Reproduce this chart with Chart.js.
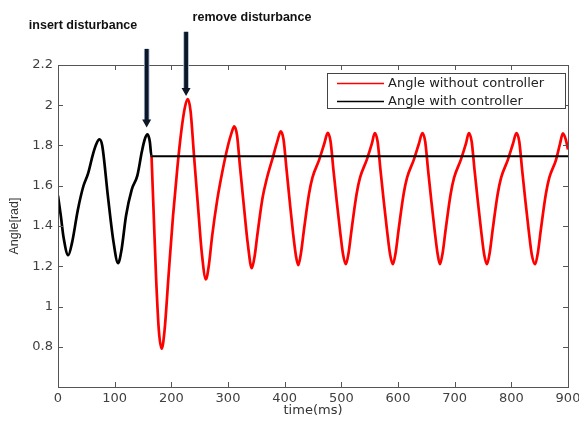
<!DOCTYPE html>
<html>
<head>
<meta charset="utf-8">
<script src="https://cdn.jsdelivr.net/npm/chart.js@4"></script>
<style>
  body { margin: 0; background: #fff; }
  canvas { display: block; }
</style>
</head>
<body>
<canvas id="angleChart" width="579" height="422"></canvas>
<script>
// Angle vs time

const xTicks = [0, 100, 200, 300, 400, 500, 600, 700, 800, 900];
const yTicks = [0.6, 0.8, 1, 1.2, 1.4, 1.6, 1.8, 2, 2.2];

// with controller: oscillation until the disturbance, then flat
const blackTime = [0, 5, 10, 18, 25, 35, 45, 53, 62, 68, 73, 78, 88, 98, 106, 112, 120, 130, 140, 148, 153, 158, 162, 165, 900];
const blackAngle = [1.55, 1.45, 1.34, 1.255, 1.32, 1.48, 1.60, 1.66, 1.76, 1.81, 1.83, 1.80, 1.55, 1.32, 1.215, 1.28, 1.45, 1.58, 1.65, 1.77, 1.83, 1.855, 1.82, 1.746, 1.746];

// without controller
const redTime = [
  165, 169, 173, 178, 183, 188, 195, 203, 211, 218, 224, 229, 234, 240, 247, 254, 261,
  266, 272, 281, 290, 300, 306, 311, 316, 321, 328, 335, 342,
  347, 352, 361, 368, 379, 387, 393, 398, 403, 409, 415, 420, 424,
  429, 434, 443, 449, 461, 470, 476, 481, 486, 492, 498, 503, 508,
  513, 518, 527, 533, 545, 554, 559, 564, 569, 575, 581, 586, 591,
  596, 601, 610, 616, 628, 637, 643, 648, 653, 659, 665, 670, 674,
  679, 684, 693, 699, 711, 720, 725, 730, 735, 741, 747, 752, 757,
  762, 767, 776, 782, 794, 803, 809, 814, 819, 825, 831, 836, 842,
  847, 852, 861, 867, 879, 886, 891, 896, 900
];
const redAngle = [
  1.75, 1.45, 1.15, 0.88, 0.79, 0.88, 1.15, 1.45, 1.70, 1.88, 1.99, 2.03, 1.97, 1.75, 1.50, 1.26, 1.135,
  1.20, 1.35, 1.53, 1.67, 1.80, 1.86, 1.895, 1.85, 1.70, 1.50, 1.31, 1.19,
  1.25, 1.36, 1.54, 1.63, 1.74, 1.82, 1.87, 1.83, 1.69, 1.52, 1.36, 1.25, 1.205,
  1.27, 1.38, 1.56, 1.64, 1.73, 1.81, 1.863, 1.82, 1.68, 1.52, 1.37, 1.26, 1.21,
  1.27, 1.38, 1.56, 1.64, 1.73, 1.81, 1.862, 1.82, 1.68, 1.52, 1.37, 1.26, 1.21,
  1.27, 1.38, 1.56, 1.64, 1.73, 1.81, 1.862, 1.82, 1.68, 1.52, 1.37, 1.26, 1.21,
  1.27, 1.38, 1.56, 1.64, 1.73, 1.81, 1.862, 1.82, 1.68, 1.52, 1.37, 1.26, 1.21,
  1.27, 1.38, 1.56, 1.64, 1.73, 1.81, 1.862, 1.82, 1.68, 1.52, 1.37, 1.26, 1.21,
  1.27, 1.38, 1.56, 1.64, 1.73, 1.81, 1.86, 1.83, 1.78
];

// arrows in data units: time, start angle, tip angle
const arrows = [
  { t: 156.5, from: 2.28, to: 1.89 },
  { t: 226, from: 2.365, to: 2.046 }
];

const axisColor = '#555';
const textColor = '#404040';

function toPoints(xs, ys) {
  return xs.map((x, i) => ({ x: x, y: ys[i] }));
}

// box round the plot with ticks pointing inward (matlab style)
const framePlugin = {
  id: 'frame',
  afterDatasetsDraw(chart) {
    const { ctx, chartArea: a, scales } = chart;
    ctx.save();
    ctx.strokeStyle = axisColor;
    ctx.lineWidth = 1;
    ctx.strokeRect(a.left + 0.5, a.top + 0.5, a.right - a.left, a.bottom - a.top);
    ctx.beginPath();
    xTicks.forEach(v => {
      const px = Math.round(scales.x.getPixelForValue(v)) + 0.5;
      ctx.moveTo(px, a.bottom); ctx.lineTo(px, a.bottom - 5);
      ctx.moveTo(px, a.top); ctx.lineTo(px, a.top + 5);
    });
    yTicks.forEach(v => {
      const py = Math.round(scales.y.getPixelForValue(v)) + 0.5;
      ctx.moveTo(a.left, py); ctx.lineTo(a.left + 5, py);
      ctx.moveTo(a.right, py); ctx.lineTo(a.right - 5, py);
    });
    ctx.stroke();
    ctx.restore();
  }
};

const legendPlugin = {
  id: 'boxLegend',
  afterDraw(chart) {
    const { ctx, chartArea: a } = chart;
    const left = a.right - 241, top = a.top + 8, w = 238, h = 35;
    ctx.save();
    ctx.fillStyle = '#fff';
    ctx.fillRect(left, top, w, h);
    ctx.strokeStyle = '#444';
    ctx.lineWidth = 1;
    ctx.strokeRect(left + 0.5, top + 0.5, w, h);
    ctx.font = '13px "DejaVu Sans"';
    ctx.textBaseline = 'middle';
    chart.data.datasets.forEach((ds, i) => {
      const y = top + 10.5 + i * 18;
      ctx.strokeStyle = ds.borderColor;
      ctx.lineWidth = 1.6;
      ctx.beginPath();
      ctx.moveTo(left + 10, y); ctx.lineTo(left + 57, y);
      ctx.stroke();
      ctx.fillStyle = '#222';
      ctx.fillText(ds.label, left + 61, y);
    });
    ctx.restore();
  }
};

const notePlugin = {
  id: 'notes',
  afterDraw(chart) {
    const { ctx, scales } = chart;
    ctx.save();
    arrows.forEach(ar => {
      const x = scales.x.getPixelForValue(ar.t);
      const y0 = scales.y.getPixelForValue(ar.from);
      const y1 = scales.y.getPixelForValue(ar.to);
      ctx.lineCap = 'butt';
      ctx.strokeStyle = '#9db3cf';
      ctx.lineWidth = 5.5;
      ctx.beginPath(); ctx.moveTo(x, y0); ctx.lineTo(x, y1 - 6); ctx.stroke();
      ctx.strokeStyle = '#0c1626';
      ctx.lineWidth = 3.8;
      ctx.beginPath(); ctx.moveTo(x, y0); ctx.lineTo(x, y1 - 6); ctx.stroke();
      ctx.fillStyle = '#0c1626';
      ctx.beginPath();
      ctx.moveTo(x - 4.5, y1 - 8); ctx.lineTo(x + 4.5, y1 - 8); ctx.lineTo(x, y1);
      ctx.closePath(); ctx.fill();
    });
    ctx.fillStyle = '#111';
    ctx.font = 'bold 12.5px "Liberation Sans"';
    ctx.textAlign = 'center';
    ctx.textBaseline = 'middle';
    ctx.fillText('insert disturbance', 83, 26);
    ctx.fillText('remove disturbance', 252, 18);
    ctx.restore();
  }
};

new Chart(document.getElementById('angleChart'), {
  type: 'line',
  data: {
    datasets: [{
      label: 'Angle without controller',
      data: toPoints(redTime, redAngle),
      borderColor: '#ff0000',
      borderWidth: 2.7,
      cubicInterpolationMode: 'monotone',
      pointRadius: 0,
      order: 2
    }, {
      label: 'Angle with controller',
      data: toPoints(blackTime, blackAngle),
      borderColor: '#000000',
      borderWidth: 2.7,
      segment: {
        borderWidth: ctx => ctx.p0.parsed.x >= 165 ? 2 : 2.7
      },
      cubicInterpolationMode: 'monotone',
      pointRadius: 0,
      order: 1
    }]
  },
  options: {
    responsive: false,
    animation: false,
    devicePixelRatio: 1,
    layout: { padding: { top: 65, right: 11, left: 0, bottom: 0 } },
    plugins: {
      legend: { display: false },
      tooltip: { enabled: false }
    },
    scales: {
      x: {
        type: 'linear',
        min: 0,
        max: 900,
        afterBuildTicks: scale => { scale.ticks = xTicks.map(v => ({ value: v })); },
        ticks: {
          color: textColor,
          font: { family: 'DejaVu Sans', size: 13 },
          padding: 4,
          maxRotation: 0,
          autoSkip: false
        },
        grid: { display: false, drawTicks: false },
        border: { display: false },
        title: {
          display: true,
          text: 'time(ms)',
          color: '#333',
          font: { family: 'DejaVu Sans', size: 13 },
          padding: { top: 0, bottom: 4 }
        },
        afterFit: scale => { scale.height = 35; scale.paddingLeft = 0; scale.paddingRight = 0; }
      },
      y: {
        min: 0.6,
        max: 2.2,
        afterBuildTicks: scale => { scale.ticks = yTicks.map(v => ({ value: v })); },
        ticks: {
          color: textColor,
          font: { family: 'DejaVu Sans', size: 13 },
          padding: 5,
          callback: v => (Math.abs(v - 0.6) < 1e-6 ? '' : String(+v.toFixed(1)))
        },
        grid: { display: false, drawTicks: false },
        border: { display: false },
        title: {
          display: true,
          text: 'Angle[rad]',
          color: '#333',
          font: { family: 'Liberation Sans', size: 12.5 },
          padding: { top: 7, bottom: 0 }
        },
        afterFit: scale => { scale.width = 58; }
      }
    }
  },
  plugins: [framePlugin, legendPlugin, notePlugin]
});
</script>
</body>
</html>
